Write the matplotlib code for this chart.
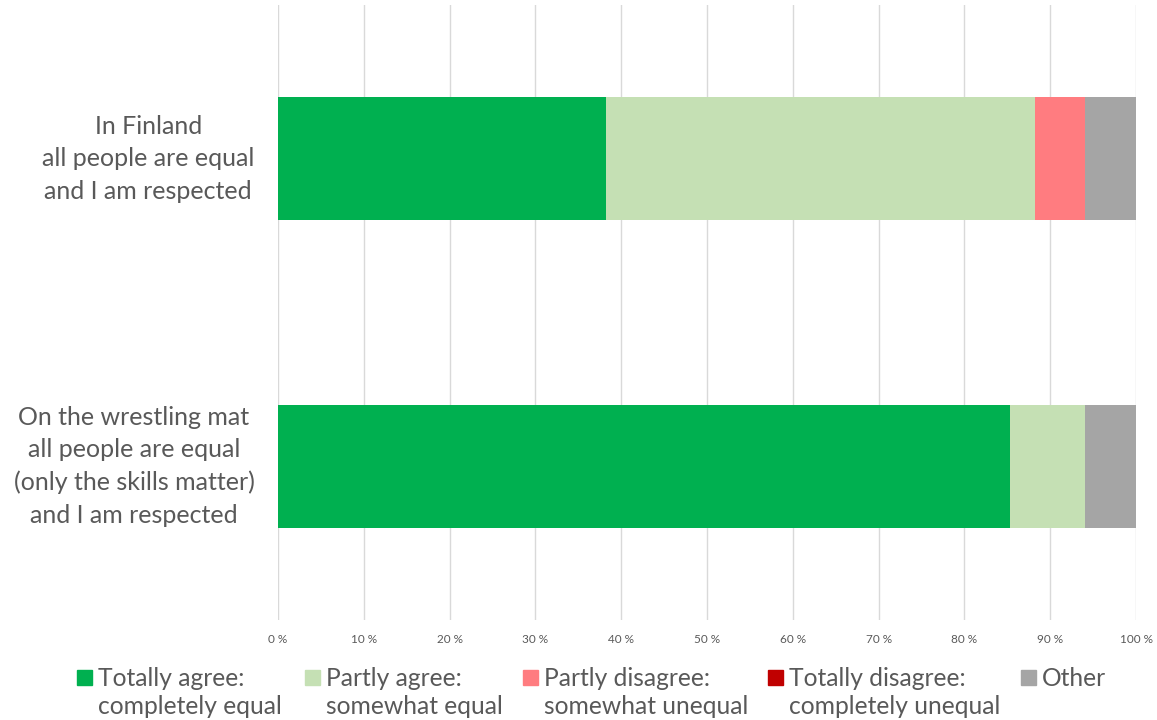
import matplotlib.pyplot as plt
from matplotlib.patches import Rectangle
from matplotlib.ticker import FuncFormatter

# Survey statements (top to bottom) and answer shares in percent
statements = [
    "In Finland\nall people are equal\nand I am respected",
    "On the wrestling mat\nall people are equal\n(only the skills matter)\nand I am respected",
]
answers = [
    "Totally agree:\ncompletely equal",
    "Partly agree:\nsomewhat equal",
    "Partly disagree:\nsomewhat unequal",
    "Totally disagree:\ncompletely unequal",
    "Other",
]
totally_agree = [38.2, 85.3]
partly_agree = [50.0, 8.8]
partly_disagree = [5.9, 0.0]
totally_disagree = [0.0, 0.0]
other = [5.9, 5.9]

colors = ["#00B050", "#C5E0B4", "#FF7C80", "#C00000", "#A5A5A5"]
text_color = "#595959"

plt.rcParams["font.family"] = ["Lato", "DejaVu Sans"]


def main():
    series = [totally_agree, partly_agree, partly_disagree, totally_disagree, other]

    fig = plt.figure(figsize=(11.57, 7.2), dpi=100)
    ax = fig.add_axes([278 / 1157, 1 - 620 / 720, 858 / 1157, 615 / 720])

    ypos = [1, 0]
    left = [0.0, 0.0]
    for values, color in zip(series, colors):
        ax.barh(ypos, values, left=left, height=0.4, color=color, zorder=3)
        left = [l + v for l, v in zip(left, values)]

    ax.set_xlim(0, 100)
    ax.set_ylim(-0.5, 1.5)
    ax.set_xticks(range(0, 101, 10))
    ax.xaxis.set_major_formatter(FuncFormatter(lambda v, p: f"{v:.0f} %"))
    ax.tick_params(axis="x", length=0, labelsize=8.5, labelcolor=text_color, pad=10)

    ax.set_yticks(ypos)
    ax.set_yticklabels(statements, fontsize=18, color=text_color, va="center",
                       multialignment="center", linespacing=1.5)
    ax.tick_params(axis="y", length=0, pad=17)

    ax.grid(axis="x", color="#D9D9D9", linewidth=1, zorder=0)
    for spine in ax.spines.values():
        spine.set_visible(False)

    # legend along the bottom, square marker beside the first line
    legend_x = [77, 305, 523, 768, 1021]
    for x, label, color in zip(legend_x, answers, colors):
        fig.patches.append(Rectangle((x / 1157, 1 - 685 / 720), 15 / 1157, 15 / 720,
                                     transform=fig.transFigure, color=color))
        lines = label.split("\n")
        fig.text((x + 21) / 1157, 1 - 678 / 720, lines[0], fontsize=17.7,
                 color=text_color, va="center", ha="left")
        if len(lines) > 1:
            fig.text((x + 21) / 1157, 1 - 706 / 720, lines[1], fontsize=17.7,
                     color=text_color, va="center", ha="left")

    fig.savefig("out.png", dpi=100)


if __name__ == "__main__":
    main()
